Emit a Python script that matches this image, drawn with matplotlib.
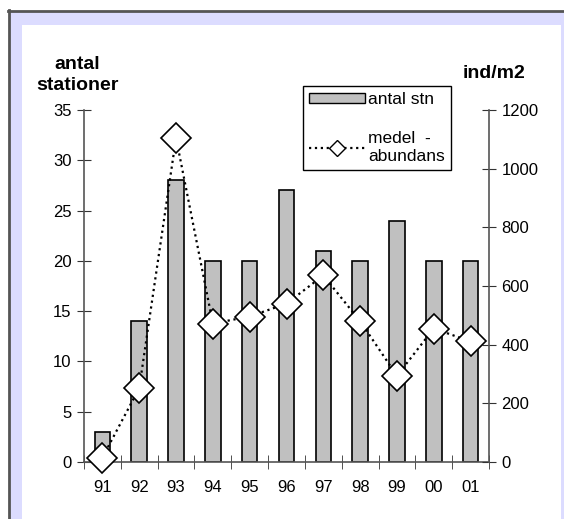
import numpy as np
import matplotlib
matplotlib.use('Agg')
import matplotlib.pyplot as plt
from matplotlib.patches import Rectangle, Patch
from matplotlib.lines import Line2D

# data
years = ['91', '92', '93', '94', '95', '96', '97', '98', '99', '00', '01']
antal_stn = [3, 14, 28, 20, 20, 27, 21, 20, 24, 20, 20]
abundans = [15, 252, 1105, 472, 496, 540, 636, 480, 294, 455, 411]

plt.rcParams['font.family'] = ['Liberation Sans', 'DejaVu Sans']

W, H = 564, 519
fig = plt.figure(figsize=(W / 100, H / 100), dpi=100, facecolor='white')

# bakgrund: lila ram och vit panel
fig.patches.append(Rectangle((9 / W, 0), 1 - 9 / W, (H - 11) / H, transform=fig.transFigure,
                             facecolor='#DCDCFF', edgecolor='none', zorder=-10))
fig.patches.append(Rectangle((22 / W, 0), (561 - 22) / W, (H - 25) / H, transform=fig.transFigure,
                             facecolor='white', edgecolor='none', zorder=-9))
fig.lines.append(Line2D([8.5 / W, 8.5 / W], [0, (H - 10) / H], transform=fig.transFigure,
                        color='#555555', lw=2, zorder=-8))
fig.lines.append(Line2D([8 / W, 1], [(H - 10.5) / H, (H - 10.5) / H], transform=fig.transFigure,
                        color='#555555', lw=2, zorder=-8))

ax = fig.add_axes([84 / W, (H - 462) / H, (489 - 84) / W, (462 - 110) / H])
ax.set_facecolor('none')
x = np.arange(len(years))
ax.bar(x, antal_stn, width=0.42, color='#C0C0C0', edgecolor='black', linewidth=1.2, zorder=2)
ax.set_xlim(-0.5, len(years) - 0.5)
ax.set_ylim(0, 35)
ax.set_yticks(np.arange(0, 36, 5))
ax.set_xticks(x)
ax.set_xticklabels(years)
ax.set_xticks(np.arange(-0.5, len(years)), minor=True)
ax.tick_params(axis='x', which='major', length=0, pad=13, labelsize=12)
ax.tick_params(axis='x', which='minor', length=10, direction='inout', color='#333333')
ax.tick_params(axis='y', length=10, direction='inout', labelsize=12, pad=4, color='#333333')
for s in ['top', 'right']:
    ax.spines[s].set_visible(False)
for s in ['left', 'bottom']:
    ax.spines[s].set_color('#555555')
    ax.spines[s].set_linewidth(1.2)

ax2 = ax.twinx()
ax2.plot(x, abundans, linestyle=':', color='black', linewidth=1.6, marker='D', markersize=15,
         markerfacecolor='white', markeredgecolor='black', markeredgewidth=1.2, clip_on=False, zorder=3)
ax2.set_ylim(0, 1200)
ax2.set_yticks(np.arange(0, 1201, 200))
ax2.tick_params(axis='y', length=10, direction='inout', labelsize=12, pad=4, color='#333333')
for s in ['top', 'left', 'bottom']:
    ax2.spines[s].set_visible(False)
ax2.spines['right'].set_color('#555555')
ax2.spines['right'].set_linewidth(1.2)

fig.text(77 / W, 1 - 75 / H, 'antal\nstationer', ha='center', va='center', fontsize=14,
         fontweight='bold', linespacing=1.3)
fig.text(494 / W, 1 - 74 / H, 'ind/m2', ha='center', va='center', fontsize=14, fontweight='bold')

handles = [Patch(facecolor='#C0C0C0', edgecolor='black', linewidth=1.0),
           Line2D([], [], linestyle=':', color='black', linewidth=1.6, marker='D', markersize=8,
                  markerfacecolor='white', markeredgecolor='black')]
leg = fig.legend(handles, ['antal stn', 'medel  -\nabundans'], loc='upper left',
                 bbox_to_anchor=(303 / W, 1 - 86 / H), fontsize=12.5, frameon=True, fancybox=False,
                 edgecolor='black', framealpha=1, handlelength=3.2, handleheight=0.5,
                 borderpad=0.35, borderaxespad=0, labelspacing=1.4, handletextpad=0.2)
leg.get_frame().set_linewidth(1.0)

fig.savefig('out.png', dpi=100, facecolor=fig.get_facecolor())
